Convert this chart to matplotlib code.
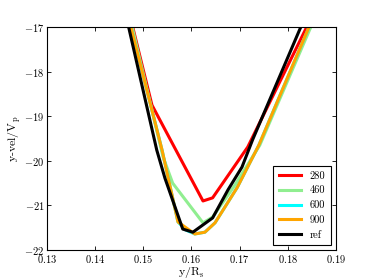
import matplotlib
matplotlib.use('Agg')
import matplotlib.pyplot as plt
from matplotlib.ticker import FuncFormatter

plt.rcParams['mathtext.fontset'] = 'cm'
plt.rcParams['font.family'] = ['cmr10', 'DejaVu Serif']
plt.rcParams['axes.formatter.use_mathtext'] = True

# curves (y/R_s, y-vel/V_p)
x_280 = [0.1470, 0.1518, 0.1624, 0.1644, 0.1717, 0.1860]
y_280 = [-16.65, -18.75, -20.90, -20.83, -19.69, -16.55]

x_460 = [0.1468, 0.1541, 0.1561, 0.1624, 0.1644, 0.1690, 0.1742, 0.1866]
y_460 = [-16.60, -19.91, -20.50, -21.39, -21.26, -20.55, -19.65, -16.55]

x_600 = [0.1466, 0.1539, 0.1572, 0.1588, 0.1607, 0.1628, 0.1649, 0.1695, 0.1740, 0.1862]
y_600 = [-16.65, -19.76, -21.37, -21.55, -21.64, -21.60, -21.39, -20.60, -19.65, -16.55]

x_900 = [0.1466, 0.1539, 0.1572, 0.1607, 0.1628, 0.1649, 0.1695, 0.1740, 0.1862]
y_900 = [-16.65, -19.76, -21.37, -21.64, -21.60, -21.39, -20.60, -19.65, -16.55]

x_ref = [0.1460, 0.1528, 0.1545, 0.1582, 0.1603, 0.1644, 0.1676, 0.1705, 0.1727, 0.1845]
y_ref = [-16.55, -19.76, -20.39, -21.53, -21.60, -21.28, -20.65, -20.14, -19.53, -16.55]

labels = ['280', '460', '600', '900', 'ref']
colors = ['red', 'lightgreen', 'cyan', 'orange', 'black']

fig = plt.figure(figsize=(3.74, 2.80), dpi=100)
ax = fig.add_axes([0.1257, 0.107, 0.7723, 0.7966])

xs = [x_280, x_460, x_600, x_900, x_ref]
ys = [y_280, y_460, y_600, y_900, y_ref]
for i in range(len(labels)):
    ax.plot(xs[i], ys[i], color=colors[i], lw=2.2, label=labels[i])

ax.set_xlim(0.13, 0.19)
ax.set_ylim(-22, -17)
ax.set_xticks([0.13, 0.14, 0.15, 0.16, 0.17, 0.18, 0.19])
ax.set_yticks([-22, -21, -20, -19, -18, -17])
ax.xaxis.set_major_formatter(FuncFormatter(lambda v, p: r'$%.2f$' % v))
ax.yaxis.set_major_formatter(FuncFormatter(lambda v, p: r'$%d$' % round(v)))
ax.tick_params(direction='in', top=True, right=True, labelsize=7.5, length=3, width=0.6, pad=2)
for s in ax.spines.values():
    s.set_linewidth(0.8)

ax.set_xlabel(r'y/R$_\mathrm{s}$', fontsize=8.5, labelpad=0)
ax.set_ylabel(r'y-vel/V$_\mathrm{p}$', fontsize=8.5, labelpad=1)

leg = ax.legend(loc='lower right', fontsize=7.5, fancybox=False, edgecolor='black',
                handlelength=2.2, borderpad=0.5, labelspacing=0.5, framealpha=1)
leg.get_frame().set_linewidth(0.8)

fig.savefig('out.png', dpi=100)
